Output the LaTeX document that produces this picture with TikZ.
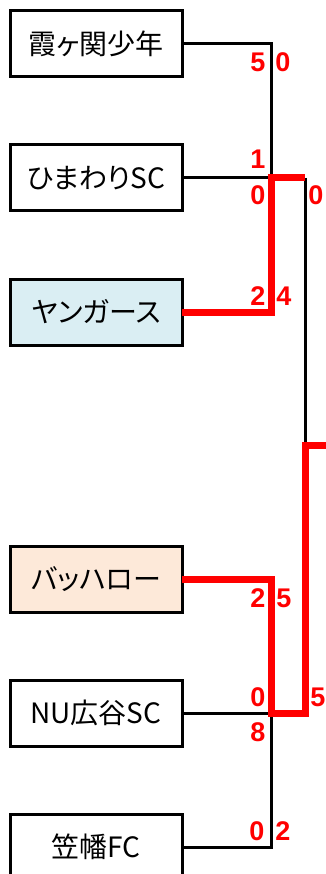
\documentclass[tikz,border=0pt]{standalone}
\usepackage{fontspec}
\setmainfont{Liberation Sans}
\newfontfamily\jpfont{Noto Sans CJK JP}[RawFeature=+palt]
\usepackage{tikz}
\usetikzlibrary{positioning}
\definecolor{winred}{RGB}{255, 0, 0}
\definecolor{youngblue}{RGB}{218, 238, 243}
\definecolor{buffpeach}{RGB}{253, 233, 217}
\tikzstyle{team} = [rectangle, draw=black, line width=3pt, fill=white, minimum width=172pt, minimum height=66pt, inner sep=0pt, outer sep=0pt, font=\jpfont\fontsize{28}{28}\selectfont]
\tikzstyle{score} = [draw=none, fill=none, text=winred, inner sep=0pt, text centered, font=\bfseries\fontsize{27}{27}\selectfont]
\tikzstyle{tline} = [draw, line width=3pt]
\tikzstyle{wline} = [draw=winred, line width=7pt, line join=miter]

\begin{document}
\begin{tikzpicture}[x=1pt, y=-1pt]

\useasboundingbox (0,0) rectangle (326,874);

% bracket points =========================

\coordinate (a2) at (271,178);
\coordinate (b2) at (271,713);
\coordinate (b3) at (271,847);
\coordinate (f1) at (305,178);
\coordinate (f2) at (305,713);
\coordinate (fc) at (305,445);
\coordinate (win) at (330,445);

% final (upper half)
\path[tline] (f1) -- (fc);

% teams ==================================

\node[team] (kasumi) at (96,44) {霞ヶ関少年};
\node[team, below=68pt of kasumi] (himawari) {ひまわりSC};
\node[team, fill=youngblue, below=68pt of himawari] (youngers) {ヤンガース};
\node[team, fill=buffpeach, below=201pt of youngers] (buffalo) {バッハロー};
\node[team, below=68pt of buffalo] (nu) {NU広谷SC};
\node[team, below=68pt of nu] (kasahata) {笠幡FC};

% first round
\path[tline] (kasumi.east) -| (a2) -- (himawari.east);
\path[tline] (nu.east) -| (b3) -- (kasahata.east);

% winners ================================

\path[wline] (youngers.east) -| (a2) -- (f1);
\path[wline] (buffalo.east) -| (b2) -- (f2) -- (fc) -- (win);

% scores =================================

\node[score] (s1) at (258,62) {5};
\node[score] (s2) at (283,62) {0};
\node[score] (s3) at (258,159) {1};
\node[score] (s4) at (258,195) {0};
\node[score] (s5) at (316,195) {0};
\node[score] (s6) at (258,296) {2};
\node[score] (s7) at (284,296) {4};

\node[score] (s8) at (258,598) {2};
\node[score] (s9) at (284,598) {5};
\node[score] (s10) at (258,697) {0};
\node[score] (s11) at (318,697) {5};
\node[score] (s12) at (258,732) {8};
\node[score] (s13) at (257,831) {0};
\node[score] (s14) at (283,831) {2};

\end{tikzpicture}
\end{document}
